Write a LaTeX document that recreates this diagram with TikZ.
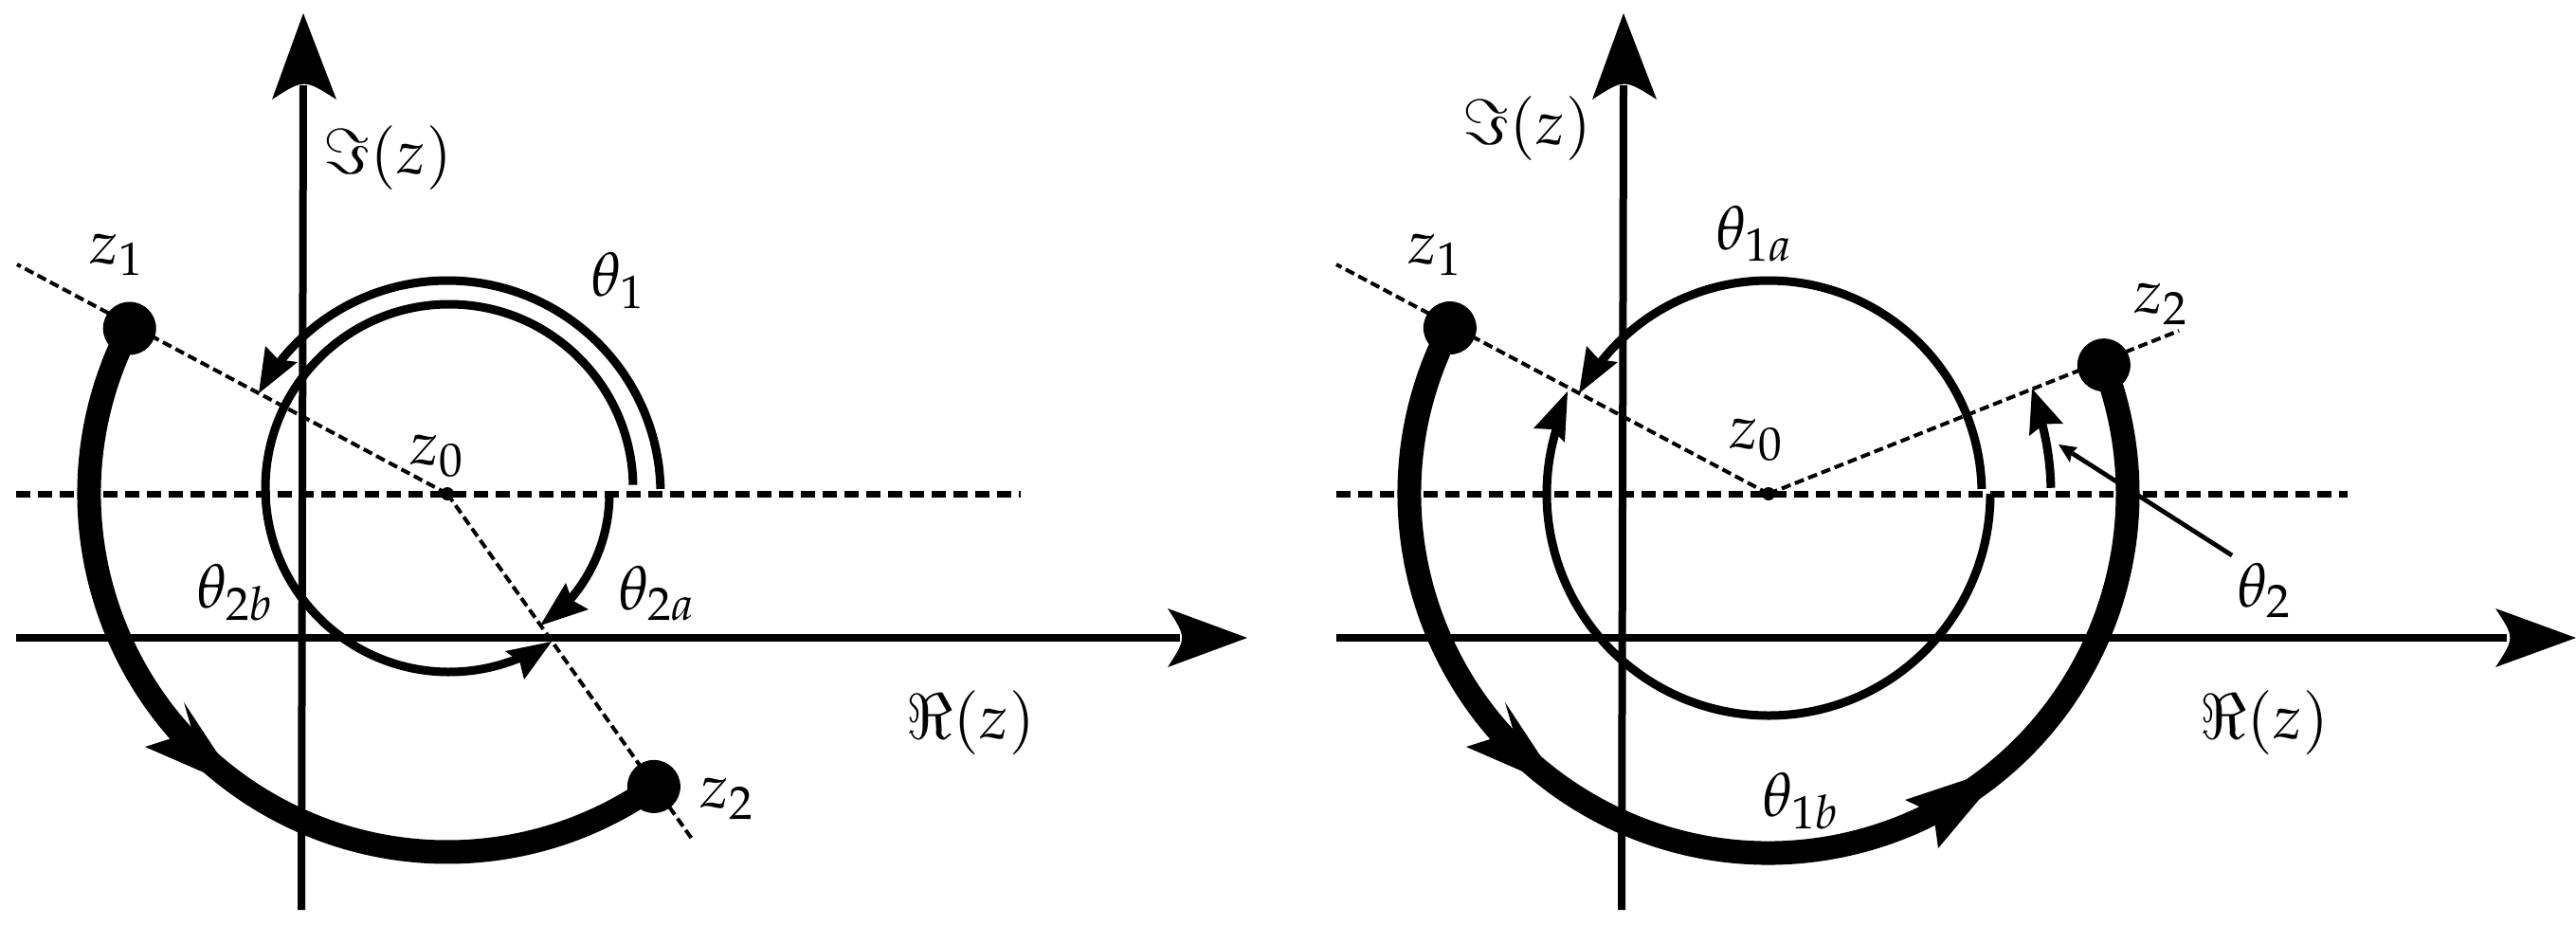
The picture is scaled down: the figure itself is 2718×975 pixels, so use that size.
\documentclass[tikz,border=0pt]{standalone}
\usepackage{mathpazo}
\usetikzlibrary{calc}
\tikzset{
  x=0.5pt,y=0.5pt,
  lab/.style={inner sep=0pt,scale=3.25,text=black},
  axisline/.style={line width=4pt},
  thickdash/.style={line width=3.5pt,dash pattern=on 7.5pt off 4pt},
  thindash/.style={line width=2pt,dash pattern=on 5pt off 2.5pt},
  thinarc/.style={line width=4.5pt},
  fatarc/.style={line width=12.5pt},
  bigdot/.style={circle,fill=black,inner sep=0pt,minimum size=28pt},
  smalldot/.style={circle,fill=black,inner sep=0pt,minimum size=7pt},
  pointer/.style={line width=2.4pt}
}
% tip, back corner, back corner: a head with a slightly hollow back
\newcommand\ahead[3]{\fill[black] (#1) -- (#2) -- ($($(#2)!.5!(#3)$)!.14!(#1)$) -- (#3) -- cycle;}
\newcommand\axhead[3]{\fill[black] (#1) -- (#2) .. controls ($($(#2)!.5!(#3)$)!.24!(#1)$) .. (#3) -- cycle;}
\begin{document}
\begin{tikzpicture}
\useasboundingbox (0,-975) rectangle (2718,0);
% ---------- left panel
\coordinate (Lc) at (472,-521);
\coordinate (Lc2) at (474,-515);
\coordinate (Lxa) at (17,-673); \coordinate (Lxb) at (1245,-673);
\coordinate (Lya) at (318,-960); \coordinate (Lyb) at (320,-90);
\coordinate (Lda) at (17,-521); \coordinate (Ldb) at (1077,-521);
\coordinate (Le1) at (18,-279); \coordinate (Le2) at (730,-885);
\draw[axisline] (Lxa) -- (Lxb);
\draw[axisline] (Lya) -- (Lyb);
\axhead{1316,-673}{1232,-642}{1232,-704}
\axhead{320,-14}{287,-105}{355,-105}
\draw[thickdash] (Lda) -- (Ldb);
\draw[thindash] (Lc) -- (Le1);
\draw[thindash] (Lc) -- (Le2);
\node[smalldot] (Lz0) at (Lc) {};
\draw[thinarc] ($(Lc)+(1.3:225)$) arc[start angle=1.3,end angle=146,radius=225];
\ahead{273,-415}{280,-365}{314,-382}
\draw[thinarc] ($(Lc2)+(1:194)$) arc[start angle=1,end angle=297,radius=194];
\ahead{582,-677}{533,-687}{553,-717}
\draw[thinarc] ($(Lc)+(0:171)$) arc[start angle=0,end angle=-47,radius=171];
\ahead{570,-660}{597,-615}{621,-643}
\draw[fatarc] ($(Lc)+(152.5:378)$) arc[start angle=152.5,end angle=305,radius=378];
\fill[black] (254,-832) -- (194,-741) -- (203,-772) -- (153,-788) -- cycle;
\node[bigdot] (Lz1) at ($(Lc)+(152.5:378)$) {};
\node[bigdot] (Lz2) at ($(Lc)+(305.2:378)$) {};
\node[lab] at (124,-269) {$z_1$};
\node[lab] at (653,-296) {$\theta_1$};
\node[lab] at (462,-481) {$z_0$};
\node[lab] at (249,-625) {$\theta_{2b}$};
\node[lab] at (694,-626) {$\theta_{2a}$};
\node[lab] at (768,-843) {$z_2$};
\node[lab] at (409,-167) {$\Im(z)$};
\node[lab] at (1024,-763) {$\Re(z)$};
% ---------- right panel
\coordinate (Rc) at (1866,-521);
\coordinate (Rxa) at (1410,-673); \coordinate (Rxb) at (2645,-673);
\coordinate (Rya) at (1711,-960); \coordinate (Ryb) at (1713,-90);
\coordinate (Rda) at (1410,-521); \coordinate (Rdb) at (2477,-521);
\coordinate (Re1) at (1410,-279); \coordinate (Re2) at (2299,-349);
\coordinate (Rpa) at (2355,-586); \coordinate (Rpb) at (2186,-478);
\draw[axisline] (Rxa) -- (Rxb);
\draw[axisline] (Rya) -- (Ryb);
\axhead{2718,-673}{2633,-642}{2633,-704}
\axhead{1713,-14}{1680,-105}{1748,-105}
\draw[thickdash] (Rda) -- (Rdb);
\draw[thindash] (Rc) -- (Re1);
\draw[thindash] (Rc) -- (Re2);
\node[smalldot] (Rz0) at (Rc) {};
\draw[pointer] (Rpa) -- (Rpb);
\ahead{2172,-469}{2192,-472}{2184,-488}
\draw[thinarc] ($(Rc)+(1.3:225)$) arc[start angle=1.3,end angle=146,radius=225];
\ahead{1666,-415}{1674,-365}{1707,-382}
\draw[thinarc] ($(Rc)+(0:234)$) arc[start angle=0,end angle=-200,radius=234];
\ahead{1654,-413}{1618,-452}{1651,-467}
\draw[thinarc] ($(Rc)+(1.2:298)$) arc[start angle=1.2,end angle=16,radius=298];
\ahead{2144,-410}{2141,-460}{2177,-447}
\draw[fatarc] ($(Rc)+(152.5:379)$) arc[start angle=152.5,end angle=381,radius=379];
\fill[black] (1648,-832) -- (1588,-741) -- (1597,-772) -- (1547,-788) -- cycle;
\fill[black] (2118,-808) -- (2010,-844) -- (2040,-858) -- (2045,-895) -- cycle;
\node[bigdot] (Rz1) at ($(Rc)+(152.5:379)$) {};
\node[bigdot] (Rz2) at ($(Rc)+(21:379)$) {};
\node[lab] at (1515,-269) {$z_1$};
\node[lab] at (1852,-247) {$\theta_{1a}$};
\node[lab] at (1854,-464) {$z_0$};
\node[lab] at (1901,-845) {$\theta_{1b}$};
\node[lab] at (2281,-321) {$z_2$};
\node[lab] at (2390,-623) {$\theta_2$};
\node[lab] at (2389,-763) {$\Re(z)$};
\node[lab] at (1611,-136) {$\Im(z)$};
\end{tikzpicture}
\end{document}
